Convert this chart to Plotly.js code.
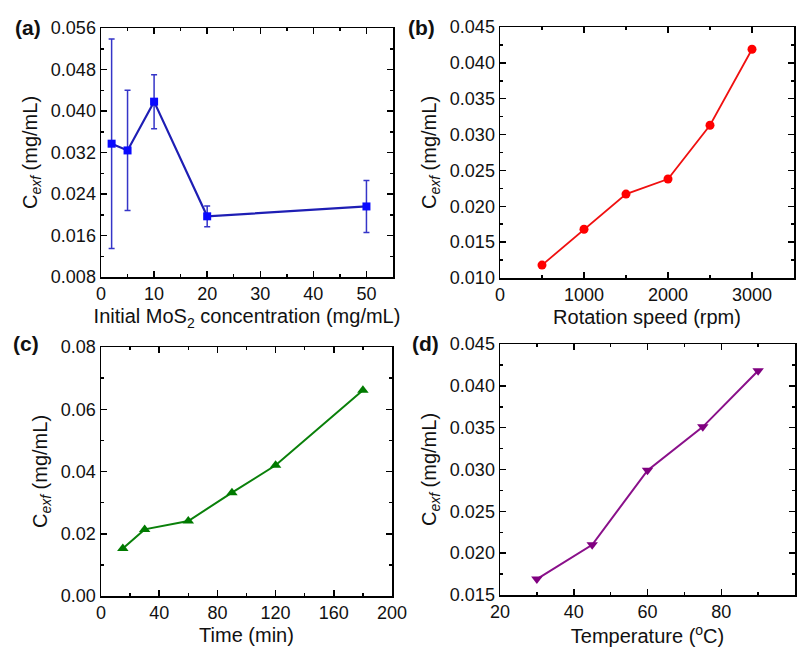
<!DOCTYPE html>
<html>
<head>
<meta charset="utf-8">
<script src="https://cdn.plot.ly/plotly-3.0.1.min.js"></script>
<style>html,body{margin:0;padding:0;background:#fff;}#chart{width:809px;height:648px;}</style>
</head>
<body>
<div id="chart"></div>
<script>
// (a) initial MoS2 concentration
const concX = [2, 5, 10, 20, 50];
const concY = [0.0337, 0.0324, 0.0418, 0.0197, 0.0216];
const concErr = [0.0202, 0.0116, 0.0052, 0.0020, 0.0050];
// (b) rotation speed
const rpmX = [500, 1000, 1500, 2000, 2500, 3000];
const rpmY = [0.0118, 0.0168, 0.0217, 0.0238, 0.0313, 0.0419];
// (c) time
const timeX = [15, 30, 60, 90, 120, 180];
const timeY = [0.0153, 0.0214, 0.0241, 0.0332, 0.0420, 0.0661];
// (d) temperature
const tempX = [30, 45, 60, 75, 90];
const tempY = [0.0169, 0.0210, 0.0299, 0.0351, 0.0418];

const panelLabels = ['(a)', '(b)', '(c)', '(d)'];
const xTitles = ['Initial MoS<sub>2</sub> concentration (mg/mL)', 'Rotation speed (rpm)', 'Time (min)', 'Temperature (<sup>o</sup>C)'];
const yTitle = 'C<sub><i>exf</i></sub> (mg/mL)';

const W = 809, H = 648;
const FONT = 'Arial, "Liberation Sans", sans-serif';

function px(a, b) { return [a / W, b / W]; }
function py(top, bottom) { return [1 - bottom / H, 1 - top / H]; }

function xaxis(domain, range, dtick, mdtick, anchor, title) {
  return {
    domain: domain, range: range, dtick: dtick, tick0: 0, anchor: anchor,
    showgrid: false, zeroline: false, showline: true, linecolor: '#000', linewidth: 1.5,
    mirror: 'ticks', ticks: 'inside', ticklen: 6, tickwidth: 1.5, tickcolor: '#000',
    minor: {ticks: 'inside', ticklen: 3, tickwidth: 1.5, tickcolor: '#000', dtick: mdtick, showgrid: false},
    tickfont: {family: FONT, size: 18, color: '#111'},
    title: {text: title, font: {family: FONT, size: 20, color: '#111'}, standoff: 6},
    fixedrange: true
  };
}
function yaxis(domain, range, dtick, mdtick, fmt, anchor) {
  return {
    domain: domain, range: range, dtick: dtick, tick0: range[0], anchor: anchor,
    showgrid: false, zeroline: false, showline: true, linecolor: '#000', linewidth: 1.5,
    mirror: 'ticks', ticks: 'inside', ticklen: 6, tickwidth: 1.5, tickcolor: '#000',
    minor: {ticks: 'inside', ticklen: 3, tickwidth: 1.5, tickcolor: '#000', dtick: mdtick, showgrid: false},
    tickformat: fmt,
    tickfont: {family: FONT, size: 18, color: '#111'},
    title: {text: yTitle, font: {family: FONT, size: 20, color: '#111'}, standoff: 8},
    fixedrange: true
  };
}

const traces = [
  {x: concX, y: concY, xaxis: 'x', yaxis: 'y', type: 'scatter', mode: 'lines+markers',
   line: {color: '#1e1eb4', width: 2.2}, marker: {symbol: 'square', size: 8, color: '#0a0aff'},
   error_y: {type: 'data', array: concErr, visible: true, color: '#3535c8', thickness: 1.5, width: 3}},
  {x: rpmX, y: rpmY, xaxis: 'x2', yaxis: 'y2', type: 'scatter', mode: 'lines+markers',
   line: {color: '#f01010', width: 1.8}, marker: {symbol: 'circle', size: 9, color: '#ff0000'}},
  {x: timeX, y: timeY, xaxis: 'x3', yaxis: 'y3', type: 'scatter', mode: 'lines+markers',
   line: {color: '#0a800a', width: 2}, marker: {symbol: 'triangle-up', size: 10, color: '#007a00'}},
  {x: tempX, y: tempY, xaxis: 'x4', yaxis: 'y4', type: 'scatter', mode: 'lines+markers',
   line: {color: '#8a108a', width: 2}, marker: {symbol: 'triangle-down', size: 10, color: '#800080'}}
];

const layout = {
  width: W, height: H, margin: {l: 0, r: 0, t: 0, b: 0},
  paper_bgcolor: '#fff', plot_bgcolor: '#fff', showlegend: false,
  xaxis: xaxis(px(101, 393), [0, 55], 10, 5, 'y', xTitles[0]),
  yaxis: yaxis(py(28, 277), [0.008, 0.056], 0.008, 0.004, '.3f', 'x'),
  xaxis2: xaxis(px(500, 794), [0, 3500], 1000, 500, 'y2', xTitles[1]),
  yaxis2: yaxis(py(27, 278), [0.010, 0.045], 0.005, 0.0025, '.3f', 'x2'),
  xaxis3: xaxis(px(101, 392), [0, 200], 40, 20, 'y3', xTitles[2]),
  yaxis3: yaxis(py(347, 596), [0, 0.08], 0.02, 0.01, '.2f', 'x3'),
  xaxis4: xaxis(px(500, 795), [20, 100], 20, 10, 'y4', xTitles[3]),
  yaxis4: yaxis(py(344, 595), [0.015, 0.045], 0.005, 0.0025, '.3f', 'x4'),
  annotations: [
    [28, 28], [422, 28], [26, 343], [425, 343]
  ].map((p, i) => ({
    text: '<b>' + panelLabels[i] + '</b>', xref: 'paper', yref: 'paper',
    x: p[0] / W, y: 1 - p[1] / H, xanchor: 'center', yanchor: 'middle', showarrow: false,
    font: {family: FONT, size: 21, color: '#111'}
  }))
};

Plotly.newPlot('chart', traces, layout, {displayModeBar: false, staticPlot: true});
</script>
</body>
</html>
